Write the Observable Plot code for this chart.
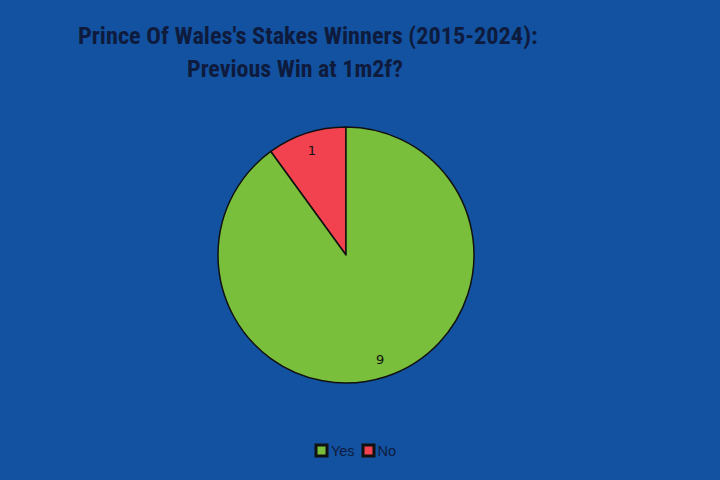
<!DOCTYPE html>
<html>
<head>
<meta charset="utf-8">
<script src="https://cdn.jsdelivr.net/npm/d3@7"></script>
<script src="https://cdn.jsdelivr.net/npm/@observablehq/plot@0.6"></script>
<style>
  html, body { margin: 0; padding: 0; }
  body { width: 720px; height: 480px; background: #1252a1; position: relative; overflow: hidden; }
  .t { position: absolute; font-family: "Liberation Sans Narrow", "Roboto Condensed", "DejaVu Sans Condensed", sans-serif; font-weight: bold; font-size: 24px; color: #0e1b3c; white-space: nowrap; }
  #chart { position: absolute; left: 0; top: 100px; }
  #legend { position: absolute; left: 0; top: 434px; width: 720px; display: flex; justify-content: center; }
  #legend > * { margin-left: 0px !important; }
  #legend span, #legend div { font-family: "Liberation Sans", Arial, sans-serif; font-size: 14.5px; color: #0e1b3c; }
  #legend span { margin-right: 8px !important; }
  #legend svg { margin-right: 4px !important; }
  #legend svg rect { stroke: #111; stroke-width: 3px; }
</style>
</head>
<body>
<div class="t" id="t1" style="left:78px; top:21px; font-size:24.3px;">Prince Of Wales's Stakes Winners (2015-2024):</div>
<div class="t" id="t2" style="left:187px; top:55px;">Previous Win at 1m2f?</div>
<div id="chart"></div>
<div id="legend"></div>
<script>
const categories = ["No", "Yes"];
const counts = [1, 9];
const colors = ["#f2414f", "#7abf3b"];
const legendOrder = ["Yes", "No"];

const data = categories.map((c, i) => ({category: c, count: counts[i]}));
const radius = 128;

const pieMark = (index, scales, values, dimensions) => {
  const cx = dimensions.marginLeft + (dimensions.width - dimensions.marginLeft - dimensions.marginRight) / 2;
  const cy = dimensions.marginTop + (dimensions.height - dimensions.marginTop - dimensions.marginBottom) / 2;
  const offset = 2 * Math.PI * counts[0] / d3.sum(counts);
  const arcs = d3.pie().sort(null).value(d => d.count).startAngle(-offset).endAngle(2 * Math.PI - offset)(data);
  const arc = d3.arc().innerRadius(0).outerRadius(radius);
  const labelArc = d3.arc().innerRadius(radius * 0.86).outerRadius(radius * 0.86);
  const g = d3.create("svg:g").attr("transform", `translate(${cx},${cy})`);
  g.selectAll("path").data(arcs).join("path")
    .attr("d", arc)
    .attr("fill", d => scales.color(d.data.category))
    .attr("stroke", "#111")
    .attr("stroke-width", 1.5)
    .attr("stroke-linejoin", "round");
  g.selectAll("text").data(arcs).join("text")
    .attr("transform", d => `translate(${labelArc.centroid(d)})`)
    .attr("text-anchor", "middle")
    .attr("dy", "0.35em")
    .attr("font-family", "DejaVu Sans, sans-serif")
    .attr("font-size", 13)
    .attr("fill", "#111")
    .text(d => d.data.count);
  return g.node();
};

const chart = Plot.plot({
  width: 720,
  height: 330,
  marginLeft: 0,
  marginRight: 28,
  marginTop: 0,
  marginBottom: 20,
  style: {background: "transparent", overflow: "visible"},
  x: {axis: null},
  y: {axis: null},
  color: {domain: categories, range: colors},
  marks: [
    Plot.dot(data, {fill: "category", r: 0}),
    pieMark
  ]
});
document.getElementById("chart").appendChild(chart);

const legend = Plot.legend({
  color: {domain: legendOrder, range: legendOrder.map(c => colors[categories.indexOf(c)])},
  swatchSize: 11,
  swatchWidth: 11,
  swatchHeight: 11,
  style: {background: "transparent"}
});
document.getElementById("legend").appendChild(legend);
</script>
</body>
</html>
